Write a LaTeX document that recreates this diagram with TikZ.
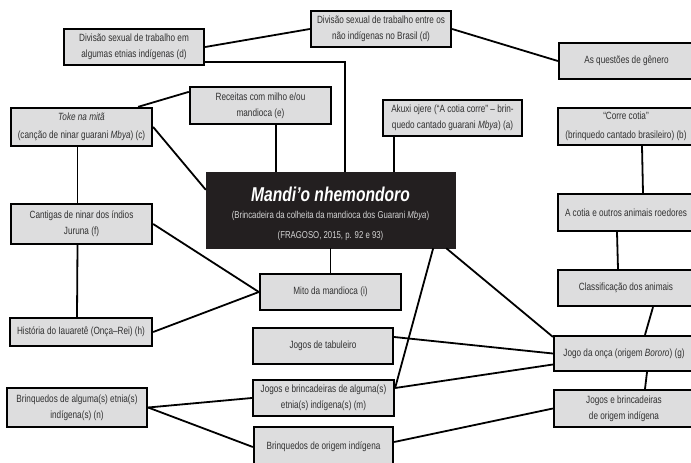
\documentclass[tikz,border=0pt]{standalone}
\usepackage{fontspec}
\setmainfont{Liberation Sans}[FakeStretch=0.78]
\usepackage{tikz}
\definecolor{boxgray}{RGB}{221,221,222}
\definecolor{boxtext}{RGB}{50,50,50}
\definecolor{darkbox}{RGB}{35,31,32}
\definecolor{subtext}{RGB}{212,212,212}

\begin{document}
\begin{tikzpicture}[x=1pt,y=-1pt]
    \tikzstyle{topic}=[draw=black,fill=boxgray,line width=2.3pt,inner sep=0pt,align=center,text=boxtext,font=\fontsize{10.5}{16}\selectfont]
    \tikzstyle{tall}=[font=\fontsize{10.5}{18.5}\selectfont]
    \tikzstyle{main}=[draw=darkbox,fill=darkbox,inner sep=0pt,align=center,text=subtext,font=\fontsize{10}{20}\selectfont]
    \tikzstyle{link}=[line width=1.8pt,draw=black]

    \useasboundingbox (0,0) rectangle (691,463);

    \node[topic,minimum width=140pt,minimum height=36pt] (divEtnias) at (134,47) {Divisão sexual de trabalho em\\algumas etnias indígenas (d)};
    \node[topic,minimum width=140pt,minimum height=36pt] (divBrasil) at (381,29) {Divisão sexual de trabalho entre os\\não indígenas no Brasil (d)};
    \node[topic,minimum width=135pt,minimum height=36pt] (genero) at (626.5,61) {As questões de gênero};
    \node[topic,tall,minimum width=141pt,minimum height=38pt] (toke) at (81.5,127) {\textit{Toke na mitã}\\(canção de ninar guarani \textit{Mbya}) (c)};
    \node[topic,minimum width=141pt,minimum height=37pt] (receitas) at (260.5,105.5) {Receitas com milho e/ou\\mandioca (e)};
    \node[topic,minimum width=139pt,minimum height=36pt] (akuxi) at (452.5,118) {Akuxi ojere (“A cotia corre” – brin-\\quedo cantado guarani \textit{Mbya}) (a)};
    \node[topic,tall,minimum width=136pt,minimum height=37pt] (correCotia) at (626,126.5) {“Corre cotia”\\(brinquedo cantado brasileiro) (b)};

    \node[main,minimum width=249pt,minimum height=76pt] (mandio) at (330.5,210) {\rule{0pt}{23pt}{\color{white}\fontsize{20}{22}\selectfont\bfseries\itshape Mandi’o nhemondoro}\\[-3pt](Brincadeira da colheita da mandioca dos Guarani \textit{Mbya})\\(FRAGOSO, 2015, p. 92 e 93)};

    \node[topic,minimum width=141pt,minimum height=40pt] (cantigas) at (81.5,224) {Cantigas de ninar dos índios\\Juruna (f)};
    \node[topic,minimum width=141pt,minimum height=36pt] (mito) at (330.5,292) {Mito da mandioca (i)};
    \node[topic,minimum width=136pt,minimum height=37pt] (roedores) at (626,212.5) {A cotia e outros animais roedores};
    \node[topic,minimum width=136pt,minimum height=36pt] (classif) at (626,288) {Classificação dos animais};
    \node[topic,minimum width=142pt,minimum height=28pt] (iauarete) at (81,332) {História do Iauaretê (Onça–Rei) (h)};
    \node[topic,minimum width=140pt,minimum height=36pt] (tabuleiro) at (323,346) {Jogos de tabuleiro};
    \node[topic,minimum width=140pt,minimum height=35pt] (onca) at (624,353.5) {Jogo da onça (origem \textit{Bororo}) (g)};
    \node[topic,minimum width=141pt,minimum height=36pt] (jogosEtnias) at (323.5,398) {Jogos e brincadeiras de alguma(s)\\etnia(s) indígena(s) (m)};
    \node[topic,minimum width=140pt,minimum height=39pt] (brinqEtnias) at (77,407.5) {Brinquedos de alguma(s) etnia(s)\\indígena(s) (n)};
    \node[topic,minimum width=140pt,minimum height=37pt] (jogosOrigem) at (624,408.5) {Jogos e brincadeiras\\de origem indígena};
    \node[topic,minimum width=139pt,minimum height=40pt] (brinqOrigem) at (323.5,447) {Brinquedos de origem indígena};

    \draw[link] (divEtnias.east) -- (divBrasil.west);
    \draw[link] ([yshift=4pt]divEtnias.south east) -| ([xshift=14.5pt]mandio.north);
    \draw[link] (divBrasil.east) -- (genero.west);
    \draw[link] ([xshift=-15pt]toke.north east) -- ([yshift=-6pt]receitas.north west);
    \draw[link] (toke.east) -- ([yshift=-18pt]mandio.north west);
    \draw[link] ([xshift=-4pt]toke.south) -- ([xshift=-4pt]cantigas.north);
    \draw[link] ([xshift=15.5pt]receitas.south) -- ([xshift=-54.5pt]mandio.north);
    \draw[link] ([xshift=-58.5pt]akuxi.south) -- ([xshift=63.5pt]mandio.north);
    \draw[link] ([xshift=16pt]correCotia.south) -- ([xshift=17pt]roedores.north);
    \draw[link] (cantigas.east) -- (mito.west);
    \draw[link] ([xshift=-4pt]cantigas.south) -- ([xshift=-4pt]iauarete.north);
    \draw[link] (iauarete.east) -- (mito.west);
    \draw[link] (mandio.south) -- (mito.north);
    \draw[link] ([xshift=-22pt]mandio.south east) -- ([yshift=-9pt]jogosEtnias.north east);
    \draw[link] ([xshift=-9pt]mandio.south east) -- ([yshift=-2pt]onca.north west);
    \draw[link] ([xshift=-9pt]roedores.south) -- ([xshift=-8pt]classif.north);
    \draw[link] ([xshift=27pt]classif.south) -- ([xshift=21pt]onca.north);
    \draw[link] ([yshift=9pt]tabuleiro.east) -- (onca.west);
    \draw[link] ([yshift=10pt]jogosEtnias.east) -- ([yshift=-11pt]onca.west);
    \draw[link] ([xshift=23pt]onca.south) -- ([xshift=21pt]jogosOrigem.north);
    \draw[link] (brinqEtnias.east) -- (jogosEtnias.west);
    \draw[link] (brinqEtnias.east) -- (brinqOrigem.west);
    \draw[link] ([yshift=5pt]brinqOrigem.east) -- (jogosOrigem.west);

\end{tikzpicture}
\end{document}
